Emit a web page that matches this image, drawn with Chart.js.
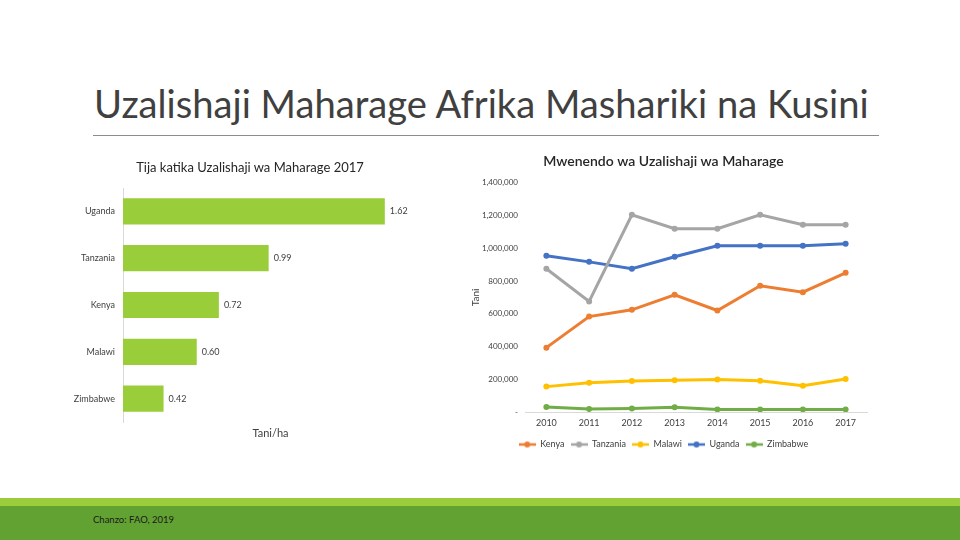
<!DOCTYPE html>
<html>
<head>
<meta charset="utf-8">
<script src="https://cdn.jsdelivr.net/npm/chart.js@4/dist/chart.umd.min.js"></script>
<style>
  html, body { margin: 0; padding: 0; }
  body { width: 960px; height: 540px; position: relative; background: #fff; overflow: hidden; font-family: Lato, "Open Sans", sans-serif; }
  #title { position: absolute; left: 94px; top: 78px; font-size: 37px; color: #404040; white-space: nowrap; line-height: 50px; }
  #rule { position: absolute; left: 93px; top: 135px; width: 786px; height: 1px; background: #8c8c8c; }
  #barTitle { position: absolute; left: 60px; top: 159px; width: 380px; text-align: center; font-size: 13px; color: #262626; }
  #barBox { position: absolute; left: 60px; top: 150px; width: 400px; height: 290px; }
  #lineBox { position: absolute; left: 460px; top: 148px; width: 420px; height: 312px; }
  #stripLight { position: absolute; left: 0; top: 498px; width: 960px; height: 8px; background: #9acc3c; }
  #stripDark { position: absolute; left: 0; top: 506px; width: 960px; height: 34px; background: #62a232; }
  #source { position: absolute; left: 93px; top: 514px; font-size: 9.5px; color: #1a1a1a; }
</style>
</head>
<body>
<div id="title">Uzalishaji Maharage Afrika Mashariki na Kusini</div>
<div id="rule"></div>
<div id="barBox"><canvas id="barChart" width="400" height="290"></canvas></div>
<div id="barTitle">Tija katika Uzalishaji wa Maharage 2017</div>
<div id="lineBox"><canvas id="lineChart" width="420" height="312"></canvas></div>
<div id="stripLight"></div>
<div id="stripDark"></div>
<div id="source">Chanzo: FAO, 2019</div>

<script>
// Tija (tani/ha) 2017
const countries = ['Uganda', 'Tanzania', 'Kenya', 'Malawi', 'Zimbabwe'];
const yields2017 = [1.62, 0.99, 0.72, 0.60, 0.42];

// Uzalishaji (tani) 2010-2017
const years = ['2010', '2011', '2012', '2013', '2014', '2015', '2016', '2017'];
const kenya = [393000, 583000, 624000, 716000, 620000, 771000, 732000, 850000];
const tanzania = [875000, 675000, 1205000, 1120000, 1120000, 1205000, 1144000, 1144000];
const malawi = [155000, 179000, 190000, 194000, 198000, 191000, 161000, 202000];
const uganda = [954000, 917000, 875000, 948000, 1015000, 1015000, 1015000, 1028000];
const zimbabwe = [31000, 18000, 22000, 29000, 16000, 16000, 16000, 16000];

const FONT = 'Lato, "Open Sans", sans-serif';

// fit slide title to the width of the original
const t = document.getElementById('title');
const w = t.getBoundingClientRect().width;
t.style.fontSize = (37 * 775 / w) + 'px';

// value labels at the end of each bar
const barLabels = {
  id: 'barLabels',
  afterDatasetsDraw(chart) {
    const ctx = chart.ctx;
    const meta = chart.getDatasetMeta(0);
    ctx.save();
    ctx.font = '9px ' + FONT;
    ctx.fillStyle = '#404040';
    ctx.textBaseline = 'middle';
    meta.data.forEach((bar, i) => {
      ctx.fillText(yields2017[i].toFixed(2), bar.x + 5, bar.y);
    });
    ctx.restore();
  }
};

new Chart(document.getElementById('barChart'), {
  type: 'bar',
  data: {
    labels: countries,
    datasets: [{ data: yields2017, backgroundColor: '#9acd3a', barPercentage: 0.56, categoryPercentage: 1 }]
  },
  options: {
    indexAxis: 'y',
    responsive: false,
    animation: false,
    layout: { padding: { right: 42, bottom: 0, left: 0, top: 38 } },
    plugins: {
      legend: { display: false },
      tooltip: { enabled: false }
    },
    scales: {
      x: {
        min: 0.2, max: 1.8,
        grid: { display: false, drawTicks: false },
        border: { display: false },
        ticks: { display: false },
        title: { display: true, text: 'Tani/ha', color: '#404040', font: { family: FONT, size: 11 }, padding: { top: 2, bottom: 0 } },
        afterFit(s) { s.height = 18; }
      },
      y: {
        grid: { display: false, drawTicks: false },
        border: { display: true, color: '#d9d9d9' },
        ticks: { color: '#404040', font: { family: FONT, size: 9 }, padding: 8 },
        afterFit(s) { s.width = 63; }
      }
    }
  },
  plugins: [barLabels]
});

// legend marker: short line with a dot
function lineMarker(color) {
  const c = document.createElement('canvas');
  c.width = 17; c.height = 8;
  const g = c.getContext('2d');
  g.strokeStyle = color; g.lineWidth = 2.5;
  g.beginPath(); g.moveTo(0, 4); g.lineTo(17, 4); g.stroke();
  g.fillStyle = color;
  g.beginPath(); g.arc(8.5, 4, 3, 0, Math.PI * 2); g.fill();
  return c;
}

const series = [
  ['Kenya', kenya, '#ed7d31'],
  ['Tanzania', tanzania, '#a5a5a5'],
  ['Malawi', malawi, '#ffc000'],
  ['Uganda', uganda, '#4472c4'],
  ['Zimbabwe', zimbabwe, '#70ad47']
];

new Chart(document.getElementById('lineChart'), {
  type: 'line',
  data: {
    labels: years,
    datasets: series.map(([name, vals, col]) => ({
      label: name, data: vals, borderColor: col, backgroundColor: col,
      borderWidth: 3, pointRadius: 3, pointBackgroundColor: col, pointBorderWidth: 0, tension: 0
    }))
  },
  options: {
    responsive: false,
    animation: false,
    layout: { padding: { right: 13, left: 0, top: 0, bottom: 1 } },
    plugins: {
      tooltip: { enabled: false },
      title: {
        display: true,
        text: 'Mwenendo wa Uzalishaji wa Maharage',
        color: '#262626',
        font: { family: FONT, size: 14, weight: '600' },
        padding: { top: 5, bottom: 13 }
      },
      legend: {
        position: 'bottom',
        labels: {
          color: '#404040',
          font: { family: FONT, size: 9 },
          usePointStyle: true,
          pointStyleWidth: 17,
          boxWidth: 17,
          boxHeight: 8,
          padding: 6,
          generateLabels(chart) {
            return chart.data.datasets.map((ds, i) => ({
              text: ds.label,
              fillStyle: ds.borderColor,
              strokeStyle: ds.borderColor,
              fontColor: '#404040',
              pointStyle: lineMarker(ds.borderColor),
              lineWidth: 0,
              datasetIndex: i,
              hidden: false
            }));
          }
        }
      }
    },
    scales: {
      x: {
        offset: true,
        grid: { display: false, drawTicks: false },
        border: { display: true, color: '#d9d9d9' },
        ticks: { color: '#404040', font: { family: FONT, size: 9 }, padding: 6, maxRotation: 0 },
        afterFit(s) { s.height = 22; }
      },
      y: {
        min: 0, max: 1400000,
        grid: { display: false, drawTicks: false },
        border: { display: false },
        ticks: {
          stepSize: 200000,
          color: '#404040',
          font: { family: FONT, size: 8 },
          padding: 7,
          callback: v => v === 0 ? '-' : v.toLocaleString('en-US')
        },
        title: { display: true, text: 'Tani', color: '#404040', font: { family: FONT, size: 10 }, padding: { top: 10, bottom: 0 } },
        afterFit(s) { s.width = 65; }
      }
    }
  }
});
</script>
</body>
</html>
